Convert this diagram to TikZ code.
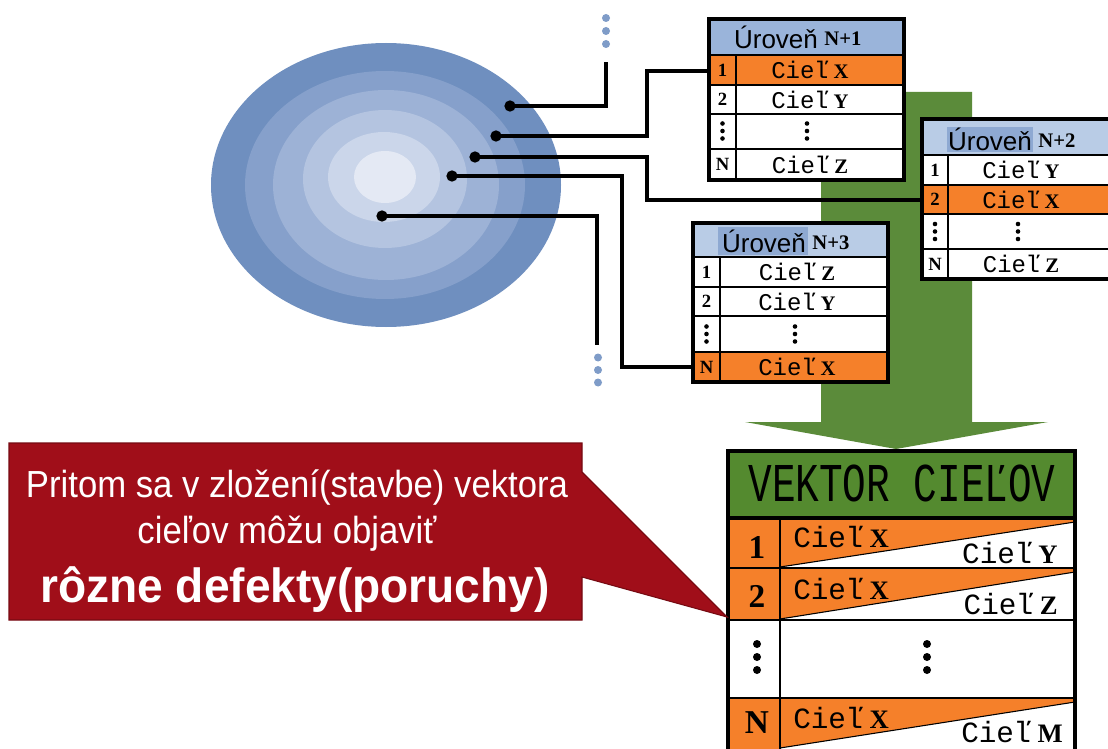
\documentclass[tikz,border=0pt]{standalone}
\usepackage{fontspec}
\usepackage{graphicx}
\setmainfont{Liberation Serif}
\newfontfamily\monof{Liberation Mono}
\newfontfamily\sansf{Liberation Sans}
\definecolor{orng}{HTML}{F5802A}
\definecolor{grn}{HTML}{5B8B3A}
\definecolor{grnhdr}{HTML}{548A2F}
\definecolor{hdrA}{HTML}{9AB4DA}
\definecolor{hdrB}{HTML}{B9CCE6}
\definecolor{hdrH}{HTML}{8EA9D2}
\definecolor{callred}{HTML}{A00E19}
\definecolor{callredd}{HTML}{760A12}
\definecolor{dotblue}{HTML}{7F9CC8}
\definecolor{ringA}{HTML}{6F8FBF}
\definecolor{ringB}{HTML}{86A0CB}
\definecolor{ringC}{HTML}{9DB2D6}
\definecolor{ringD}{HTML}{B4C4E0}
\definecolor{ringE}{HTML}{CBD6EA}
\definecolor{ringF}{HTML}{E4E9F4}
\newcommand\cel[1]{{\monof Cieľ}\hspace{0.2em}{\bfseries\fontsize{15.5}{15.5}\selectfont #1}}
\newcommand\vcel[1]{{\monof Cieľ}\hspace{0.2em}{\bfseries\fontsize{20}{20}\selectfont #1}}
\newcommand\vdcol[4]{\foreach \k in {-1,0,1} {\fill (#1,#2+\k*#4) circle[radius=#3];}}
\tikzset{
  conn/.style={line width=2.3pt},
  outerb/.style={line width=2.6pt},
  innerb/.style={line width=1.1pt},
  blackdot/.style={circle,fill=black,inner sep=0pt,minimum size=8.5pt},
  ctext/.style={inner sep=0pt,font=\fontsize{18}{18}\selectfont},
  vtext/.style={inner sep=0pt,font=\fontsize{22}{22}\selectfont},
  ntext/.style={inner sep=0pt,font=\fontsize{14}{14}\selectfont\bfseries},
  vntext/.style={inner sep=0pt,font=\fontsize{25}{25}\selectfont\bfseries},
  hdrtext/.style={inner sep=0pt,font=\sansf\fontsize{19.5}{19.5}\selectfont},
  lvltext/.style={inner sep=0pt,font=\fontsize{15.5}{15.5}\selectfont\bfseries},
  calltext/.style={inner sep=0pt,anchor=base,text=white},
}
\begin{document}
\begin{tikzpicture}[x=0.75pt,y=-0.75pt]
\useasboundingbox (0,0) rectangle (1108,749);
\clip (0,0) rectangle (1108,749);
\fill[white] (0,0) rectangle (1108,749);

% ---- rings ----
\fill[ringA] (386,185) ellipse[x radius=175,y radius=142];
\fill[ringB] (385,185) ellipse[x radius=140,y radius=114];
\fill[ringC] (386,185) ellipse[x radius=113,y radius=95];
\fill[ringD] (385,179) ellipse[x radius=82,y radius=69];
\fill[ringE] (384,177) ellipse[x radius=56,y radius=45];
\fill[ringF] (385,177) ellipse[x radius=31,y radius=26];

% ---- blue continuation dots ----
\begin{scope}[dotblue]
\vdcol{606}{31}{4}{13}
\vdcol{598}{370}{4}{12.5}
\end{scope}

% ---- green arrow ----
\fill[grn] (821,92) -- (972,92) -- (972,422) -- (1048,422) -- (896,449)
  -- (745,422) -- (821,422) -- cycle;

% ---- dots on rings ----
\node[blackdot] (d1) at (510,106) {};
\node[blackdot] (d2) at (496,136) {};
\node[blackdot] (d3) at (475,157) {};
\node[blackdot] (d4) at (452,176) {};
\node[blackdot] (d5) at (382,216) {};

\coordinate (e1) at (606,62);
\coordinate (b2) at (647,100);
\coordinate (t1r1) at (709,71);
\coordinate (b3) at (647,180);
\coordinate (t2r2) at (922,200);
\coordinate (b4) at (622,300);
\coordinate (t3r4) at (693,367);
\coordinate (e5) at (597,345);

\draw[conn] (d1.center) -| (e1);
\draw[conn] (d2.center) -| (b2) |- (t1r1);
\draw[conn] (d3.center) -| (b3) |- (t2r2);
\draw[conn] (d4.center) -| (b4) |- (t3r4);
\draw[conn] (d5.center) -| (e5);

% ---- table N+1 ----
\fill[white] (709,19) rectangle (904,180);
\fill[hdrA] (709,19) rectangle (904,55);
\fill[orng] (709,55) rectangle (904,85);
\draw[innerb] (709,85) -- (904,85) (709,114) -- (904,114) (709,149) -- (904,149) (736,55) -- (736,180);
\draw[line width=2pt] (709,55) -- (904,55);
\draw[outerb] (709,19) rectangle (904,180);
\node[hdrtext] (t1h) at (776,37) {Úroveň};
\node[lvltext] (t1l) at (843,39) {N+1};
\node[ntext] (t1n1) at (722.5,70) {1};
\node[ntext] (t1n2) at (722.5,99.5) {2};
\node[ntext] (t1n4) at (722.5,164.5) {N};
\node[ctext] (t1c1) at (810,70) {\cel{X}};
\node[ctext] (t1c2) at (810,99.5) {\cel{Y}};
\node[ctext] (t1c4) at (810,164.5) {\cel{Z}};
\vdcol{722.5}{131}{2.3}{7.5}
\vdcol{807}{131}{2.3}{7.5}

% ---- table N+2 ----
\fill[white] (922,119) rectangle (1115,279);
\fill[hdrB] (922,119) rectangle (1115,155);
\fill[hdrH] (947,127) rectangle (1033,152);
\fill[orng] (922,185) rectangle (1115,214);
\draw[innerb] (922,185) -- (1115,185) (922,214) -- (1115,214) (922,249) -- (1115,249) (948,155) -- (948,279);
\draw[line width=2pt] (922,155) -- (1115,155);
\draw[outerb] (922,119) rectangle (1115,279);
\node[hdrtext] (t2h) at (990,139) {Úroveň};
\node[lvltext] (t2l) at (1057,141) {N+2};
\node[ntext] (t2n1) at (935,170) {1};
\node[ntext] (t2n2) at (935,199.5) {2};
\node[ntext] (t2n4) at (935,264) {N};
\node[ctext] (t2c1) at (1021,170) {\cel{Y}};
\node[ctext] (t2c2) at (1021,199.5) {\cel{X}};
\node[ctext] (t2c4) at (1021,264) {\cel{Z}};
\vdcol{935}{231.5}{2.3}{7.5}
\vdcol{1018}{231.5}{2.3}{7.5}

% ---- table N+3 ----
\fill[white] (693,223) rectangle (888,382);
\fill[hdrB] (693,223) rectangle (888,257);
\fill[hdrH] (718,227) rectangle (808,255);
\fill[orng] (693,352) rectangle (888,382);
\draw[innerb] (693,287) -- (888,287) (693,316) -- (888,316) (693,352) -- (888,352) (720,257) -- (720,382);
\draw[line width=2pt] (693,257) -- (888,257);
\draw[outerb] (693,223) rectangle (888,382);
\node[hdrtext] (t3h) at (764,241) {Úroveň};
\node[lvltext] (t3l) at (831,243) {N+3};
\node[ntext] (t3n1) at (706.5,272) {1};
\node[ntext] (t3n2) at (706.5,301.5) {2};
\node[ntext] (t3n4) at (706.5,367) {N};
\node[ctext] (t3c1) at (797,272) {\cel{Z}};
\node[ctext] (t3c2) at (797,301.5) {\cel{Y}};
\node[ctext] (t3c4) at (797,367) {\cel{X}};
\vdcol{706.5}{334}{2.3}{7.5}
\vdcol{795}{334}{2.3}{7.5}

% ---- vektor cielov ----
\fill[white] (728,451) rectangle (1075,760);
\fill[grnhdr] (728,451) rectangle (1075,518);
\fill[orng] (728,518) rectangle (780,568);
\fill[orng] (780,518) -- (1075,518) -- (1075,522) -- (780,567) -- cycle;
\fill[orng] (728,568) rectangle (780,620);
\fill[orng] (780,568) -- (1075,568) -- (1075,572) -- (780,619) -- cycle;
\fill[orng] (728,698) rectangle (780,760);
\fill[orng] (780,698) -- (1075,698) -- (1075,702) -- (780,748) -- cycle;
\draw[line width=0.8pt] (780,567) -- (1075,522) (780,619) -- (1075,572) (780,748) -- (1075,702);
\draw[innerb,line width=1.6pt] (728,568) -- (1075,568) (728,620) -- (1075,620) (728,698) -- (1075,698) (780,518) -- (780,760);
\draw[line width=3pt] (728,518) -- (1075,518);
\draw[outerb,line width=3pt] (728,451) rectangle (1075,760);
\node[inner sep=0pt,font=\monof\fontsize{41}{41}\selectfont] (vh) at (902,483) {\scalebox{0.72}[1]{VEKTOR CIEĽOV}};
\node[vntext] (vn1) at (757,547) {1};
\node[vntext] (vn2) at (757,596) {2};
\node[vntext] (vnN) at (757,723) {N};
\node[vtext,anchor=west] (v1a) at (793,537) {\vcel{X}};
\node[vtext,anchor=east] (v1b) at (1058,553) {\vcel{Y}};
\node[vtext,anchor=west] (v2a) at (793,589) {\vcel{X}};
\node[vtext,anchor=east] (v2b) at (1058,604) {\vcel{Z}};
\node[vtext,anchor=west] (vNa) at (793,718) {\vcel{X}};
\node[vtext,anchor=east] (vNb) at (1063,732) {\vcel{M}};
\vdcol{757}{657}{4}{13}
\vdcol{927}{657}{4}{13}

% ---- callout ----
\fill[callred,draw=callredd,line width=0.8pt] (9,443) -- (582,443) -- (582,472) -- (727,617)
  -- (582,577) -- (582,620) -- (9,620) -- cycle;
\node[calltext,font=\sansf\fontsize{28.3}{28.3}\selectfont] (c1) at (297,497)
  {\scalebox{0.92}[1]{Pritom sa v zložení(stavbe) vektora}};
\node[calltext,font=\sansf\fontsize{28.3}{28.3}\selectfont] (c2) at (287,543)
  {\scalebox{0.92}[1]{cieľov môžu objaviť}};
\node[calltext,font=\sansf\bfseries\fontsize{36}{36}\selectfont] (c3) at (295,602)
  {\scalebox{0.96}[1]{rôzne defekty(poruchy)}};
\end{tikzpicture}
\end{document}
